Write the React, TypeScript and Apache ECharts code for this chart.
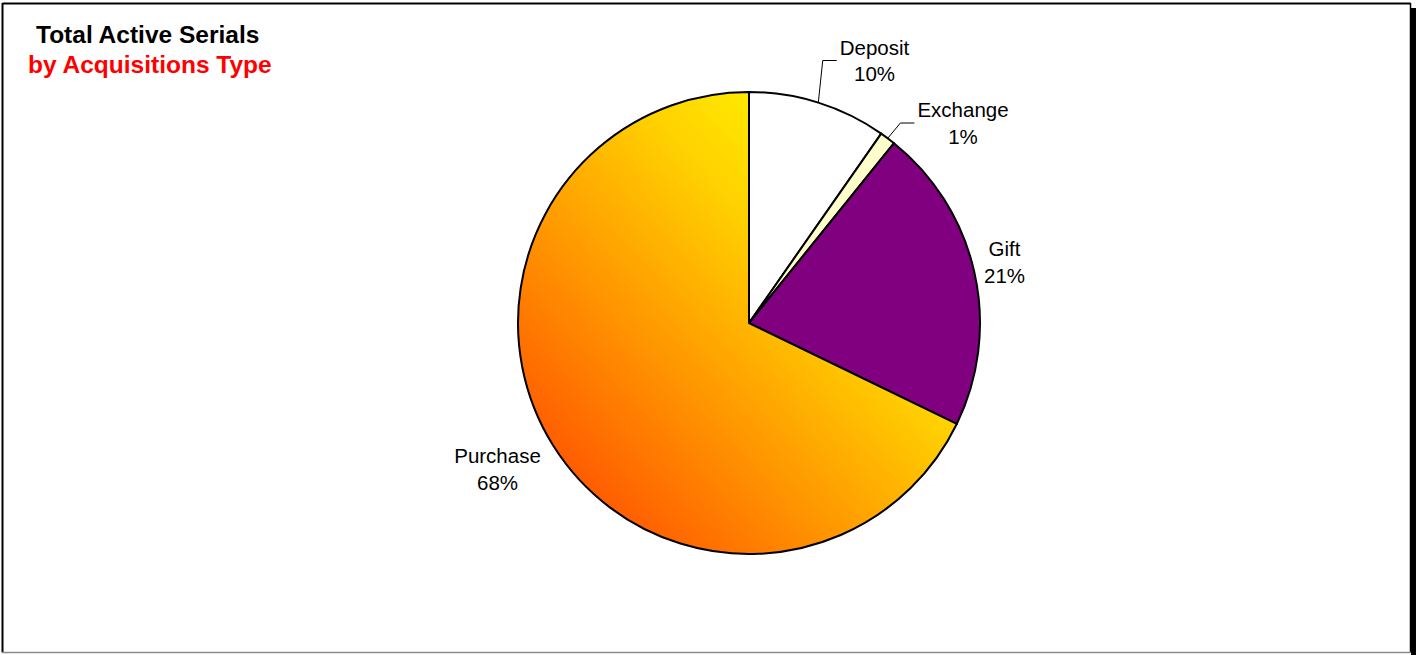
import React, { useEffect, useRef } from 'react';
import * as echarts from 'echarts';

// ---- data ----
const categories = ['Deposit', 'Exchange', 'Gift', 'Purchase'];
const serialCounts = [97, 11, 214, 678];
const sliceColors = ['#FFFFFF', '#FFFFCC', '#800080', null];
const purchaseGradientStops = [
  { offset: 0, color: '#FFFA00' },
  { offset: 0.22, color: '#FFEC00' },
  { offset: 0.38, color: '#FFD000' },
  { offset: 0.63, color: '#FF9400' },
  { offset: 0.9, color: '#FF5000' },
  { offset: 1, color: '#FF3C00' },
];
const titleLines = ['Total Active Serials', 'by Acquisitions Type'];
const labelLineShown = [true, true, false, false];

// ---- layout ----
const PIE_CENTER = [749, 323];
const PIE_RADIUS = 231;
const labelCenters = [
  [874.5, 60.5],
  [963, 123],
  [1004.5, 262.3],
  [497.5, 469],
];

export default function App() {
  const ref = useRef<HTMLDivElement>(null);

  useEffect(() => {
    if (!ref.current) return;
    const chart = echarts.init(ref.current, null, { renderer: 'svg' });
    const total = serialCounts.reduce((a, b) => a + b, 0);

    const data = categories.map((name, i) => ({
      name,
      value: serialCounts[i],
      itemStyle: {
        color:
          sliceColors[i] ||
          new echarts.graphic.LinearGradient(1, 0, 0, 1, purchaseGradientStops),
      },
      labelLine: { show: labelLineShown[i] },
    }));

    chart.setOption({
      animation: false,
      backgroundColor: '#FFFFFF',
      title: [
        {
          text: titleLines[0],
          left: 36,
          top: 22,
          padding: 0,
          textStyle: {
            fontFamily: 'Liberation Sans, Arial, sans-serif',
            fontSize: 24.5,
            fontWeight: 'bold',
            color: '#000000',
          },
        },
        {
          text: titleLines[1],
          left: 28,
          top: 52,
          padding: 0,
          textStyle: {
            fontFamily: 'Liberation Sans, Arial, sans-serif',
            fontSize: 24.5,
            fontWeight: 'bold',
            color: '#FF0000',
          },
        },
      ],
      graphic: [
        { type: 'line', silent: true, shape: { x1: 2.5, y1: 3.5, x2: 1410.5, y2: 3.5 }, style: { stroke: '#000', lineWidth: 2 } },
        { type: 'line', silent: true, shape: { x1: 2.5, y1: 3, x2: 2.5, y2: 652.5 }, style: { stroke: '#000', lineWidth: 2 } },
        { type: 'line', silent: true, shape: { x1: 1410.5, y1: 3, x2: 1410.5, y2: 652.5 }, style: { stroke: '#000', lineWidth: 1.5 } },
        { type: 'line', silent: true, shape: { x1: 2, y1: 652.5, x2: 1410.5, y2: 652.5 }, style: { stroke: '#8A8A8A', lineWidth: 1.5 } },
        { type: 'rect', silent: true, shape: { x: 1411, y: 8, width: 5, height: 647 }, style: { fill: '#000' } },
      ],
      series: [
        {
          type: 'pie',
          center: PIE_CENTER,
          radius: PIE_RADIUS,
          startAngle: 90,
          clockwise: true,
          percentPrecision: 0,
          avoidLabelOverlap: false,
          itemStyle: { borderColor: '#000000', borderWidth: 2 },
          emphasis: { disabled: true },
          label: {
            show: true,
            position: 'outside',
            formatter: '{b}\n{d}%',
            fontFamily: 'Liberation Sans, Arial, sans-serif',
            fontSize: 20.5,
            lineHeight: 26.7,
            color: '#000000',
          },
          labelLine: {
            show: true,
            length: 30,
            length2: 14,
            lineStyle: { color: '#000000', width: 1 },
          },
          labelLayout: (params: any) => {
            const i = params.dataIndex;
            const [cx, cy] = labelCenters[i];
            const res: any = { x: cx, y: cy, align: 'center', verticalAlign: 'middle' };
            if (labelLineShown[i]) {
              let p0: number[];
              if (params.labelLinePoints && params.labelLinePoints[0]) {
                p0 = params.labelLinePoints[0];
              } else {
                let before = 0;
                for (let k = 0; k < i; k++) before += serialCounts[k];
                const mid = ((before + serialCounts[i] / 2) / total) * Math.PI * 2;
                p0 = [PIE_CENTER[0] + PIE_RADIUS * Math.sin(mid), PIE_CENTER[1] - PIE_RADIUS * Math.cos(mid)];
              }
              const w = params.labelRect ? params.labelRect.width : 70;
              const endX = cx - w / 2 - 3;
              res.labelLinePoints = [p0, [endX - 14, cy], [endX, cy]];
            }
            return res;
          },
          data,
        },
      ],
    });

    return () => chart.dispose();
  }, []);

  return (
    <div
      ref={ref}
      style={{ position: 'absolute', left: 0, top: 0, width: 1416, height: 655 }}
    />
  );
}
